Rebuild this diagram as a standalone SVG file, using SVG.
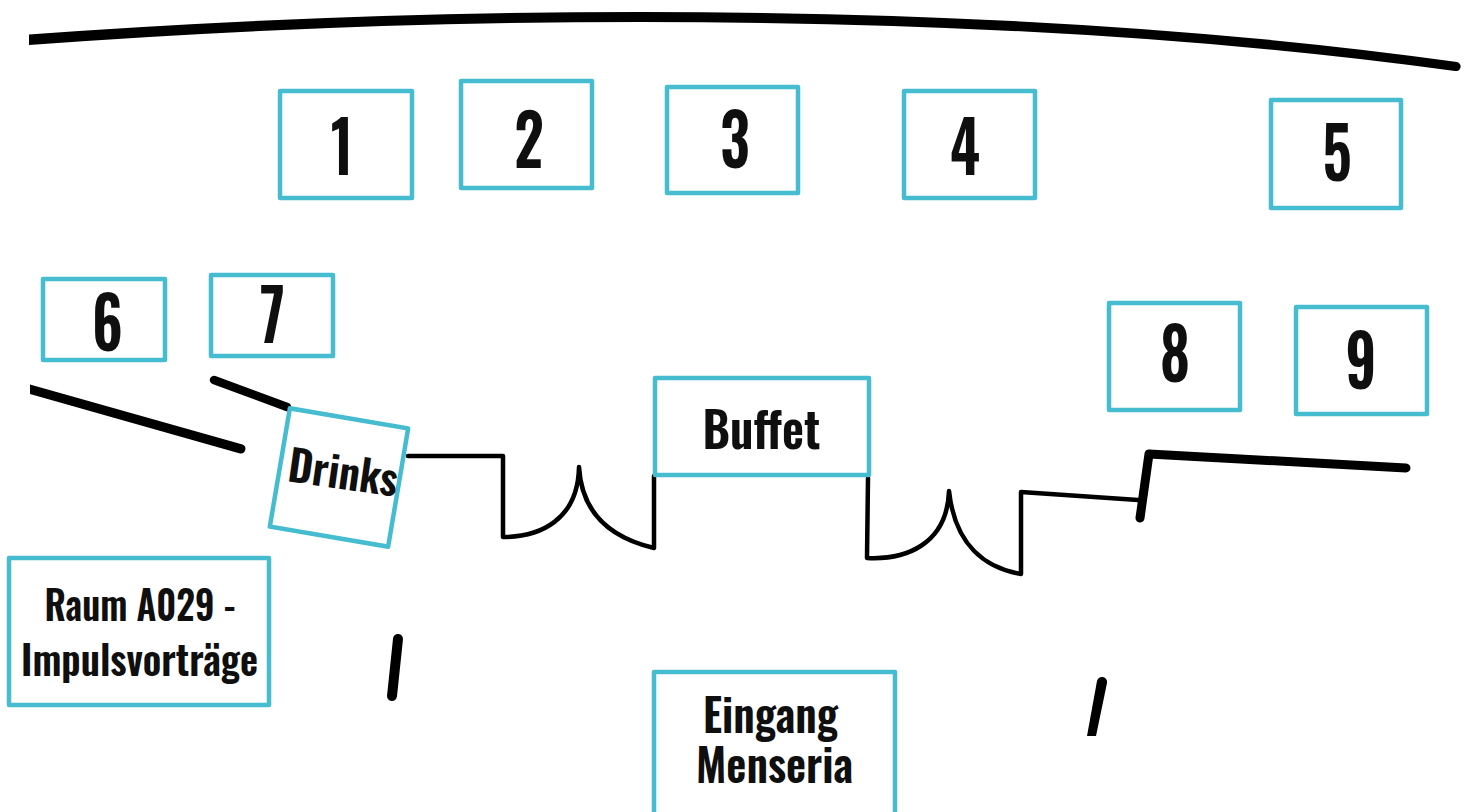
<svg xmlns="http://www.w3.org/2000/svg" width="1468" height="812" viewBox="0 0 1468 812">
<style>
.b{fill:#fff;stroke:#45bccf;stroke-width:4.5;stroke-linejoin:round}
.t{font-family:"Oswald","Liberation Sans Narrow","Liberation Sans",sans-serif;font-weight:600;fill:#0f0f0f;text-anchor:middle}
.n{font-size:71px}
.w{fill:none;stroke:#000;stroke-linecap:round;stroke-linejoin:round}
.f{fill:#000}
</style>
<rect width="1468" height="812" fill="#fff"/>
<g id="walls">
<path class="f" d="M29 34.5Q340 12 640 12Q1100 12 1457 62A4.5 4.5 0 0 1 1455 71Q1100 22 640 22Q340 22 29 45Z"/>
<path class="f" d="M30 384.5L242.5 444.5A4.7 4.7 0 0 1 240 453.5L30 394Z"/>
<path class="w" stroke-width="8.5" d="M214 380L287 407"/>
<path class="w" stroke-width="4.5" d="M408 456H503V537C540 537 578 520 579 467C582 520 620 540 654 548V476"/>
<path class="w" stroke-width="4.5" d="M868 478L867 558C905 560 947 545 949 491C955 545 985 568 1021 574V492L1138 500"/>
<path class="w" stroke-width="9" d="M1140 518L1149 454L1406 468"/>
<path class="w" stroke-width="10" d="M398 639L392 696"/>
<path class="f" d="M1097 681A5 5 0 0 1 1107 683L1096 736H1087Z"/>
</g>
<g id="n1"><rect class="b" x="280" y="91" width="132" height="107"/><text class="t n" transform="translate(342 174.5) scale(.82 1)">1</text></g>
<g id="n2"><rect class="b" x="461" y="81" width="131" height="107"/><text class="t n" transform="translate(529 167.5) scale(.82 1)">2</text></g>
<g id="n3"><rect class="b" x="667" y="87" width="131" height="106"/><text class="t n" transform="translate(735 168) scale(.82 1)">3</text></g>
<g id="n4"><rect class="b" x="904" y="91" width="131" height="107"/><text class="t n" transform="translate(965 175) scale(.82 1)">4</text></g>
<g id="n5"><rect class="b" x="1271" y="100" width="130" height="108"/><text class="t n" transform="translate(1337 181) scale(.82 1)">5</text></g>
<g id="n6"><rect class="b" x="43" y="279" width="122" height="81"/><text class="t n" transform="translate(107.5 351) scale(.82 1)">6</text></g>
<g id="n7"><rect class="b" x="211" y="275" width="122" height="81"/><text class="t n" transform="translate(272.5 343) scale(.82 1)">7</text></g>
<g id="n8"><rect class="b" x="1109" y="303" width="131" height="107"/><text class="t n" transform="translate(1175 382) scale(.82 1)">8</text></g>
<g id="n9"><rect class="b" x="1296" y="307" width="131" height="107"/><text class="t n" transform="translate(1361 389) scale(.82 1)">9</text></g>
<g id="buffet"><rect class="b" x="655" y="378" width="214" height="97"/><text class="t" style="font-size:49px" x="761.5" y="449" textLength="118" lengthAdjust="spacingAndGlyphs">Buffet</text></g>
<g id="drinks"><rect class="b" x="-60" y="-60" width="120" height="120" transform="translate(339 477.5) rotate(9.6)"/><text class="t" style="font-size:43px" transform="translate(341 489) rotate(8)" textLength="110" lengthAdjust="spacingAndGlyphs">Drinks</text></g>
<g id="raum"><rect class="b" x="9" y="558" width="260" height="147"/><text class="t" style="font-size:40px" x="140" y="620.5" textLength="191" lengthAdjust="spacingAndGlyphs">Raum A029 -</text><text class="t" style="font-size:40px" x="139.5" y="676" textLength="237" lengthAdjust="spacingAndGlyphs">Impulsvorträge</text></g>
<g id="eingang"><rect class="b" x="654" y="672" width="241" height="146"/><text class="t" style="font-size:46px" x="770.5" y="733" textLength="135" lengthAdjust="spacingAndGlyphs">Eingang</text><text class="t" style="font-size:46px" x="774.5" y="783" textLength="157" lengthAdjust="spacingAndGlyphs">Menseria</text></g>
</svg>
